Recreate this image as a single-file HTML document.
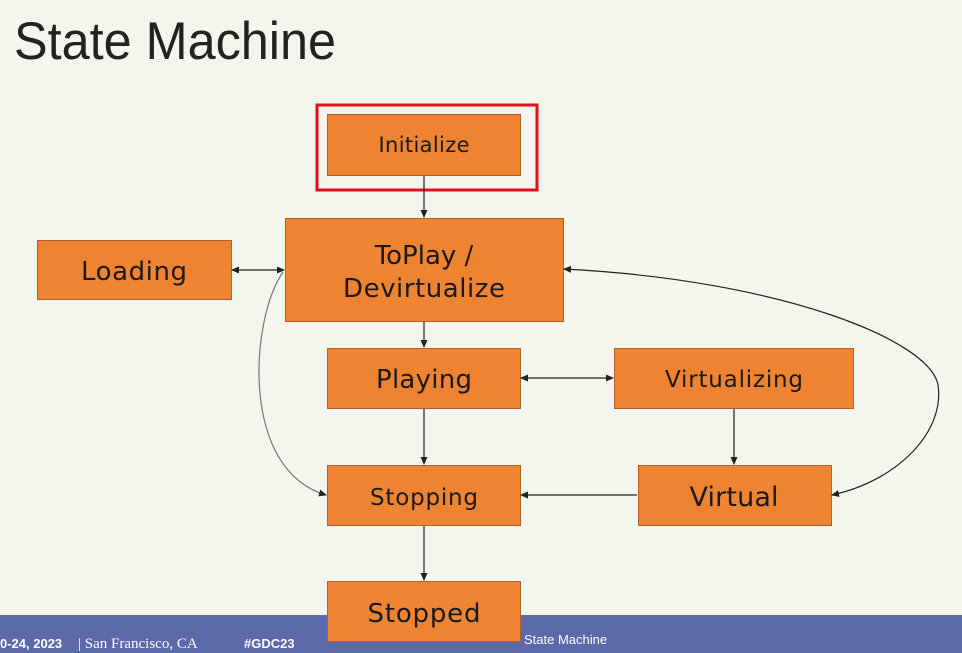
<!DOCTYPE html>
<html><head><meta charset="utf-8"><style>
html,body{margin:0;padding:0;}
body{width:962px;height:653px;background:#f4f5ec;overflow:hidden;}
</style></head><body>
<svg width="962" height="653" viewBox="0 0 962 653" xmlns="http://www.w3.org/2000/svg" style="display:block">
<defs>
<marker id="a" markerWidth="8" markerHeight="8" refX="7" refY="4" orient="auto-start-reverse" markerUnits="userSpaceOnUse">
<path d="M0,0.5 L8,4 L0,7.5 Z" fill="#222"/></marker>
</defs>
<rect width="962" height="653" fill="#f4f5ec"/>
<text x="14" y="59" font-family="Liberation Sans, sans-serif" font-size="53" fill="#222" textLength="322" lengthAdjust="spacingAndGlyphs">State Machine</text>
<rect x="0" y="615" width="962" height="38" fill="#5b69aa"/>
<text x="0" y="648" font-family="Liberation Sans, sans-serif" font-size="13" font-weight="bold" fill="#fff">0-24, 2023</text>
<text x="78" y="648" font-family="Liberation Serif, serif" font-size="15" fill="#fff">|  San Francisco, CA</text>
<text x="244" y="648" font-family="Liberation Sans, sans-serif" font-size="13" font-weight="bold" fill="#fff">#GDC23</text>
<text x="524" y="644" font-family="Liberation Sans, sans-serif" font-size="13" fill="#fff">State Machine</text>
<rect x="317" y="105" width="220" height="85" fill="none" stroke="#e0101c" stroke-width="3"/>
<g fill="#ee8332" stroke="#b0602a" stroke-width="1">
<rect x="327.5" y="114.5" width="193" height="61"/>
<rect x="285.5" y="218.5" width="278" height="103"/>
<rect x="37.5" y="240.5" width="194" height="59"/>
<rect x="327.5" y="348.5" width="193" height="60"/>
<rect x="614.5" y="348.5" width="239" height="60"/>
<rect x="327.5" y="465.5" width="193" height="60"/>
<rect x="638.5" y="465.5" width="193" height="60"/>
<rect x="327.5" y="581.5" width="193" height="60"/>
</g>
<g font-family="DejaVu Sans, sans-serif" fill="#1a1a1a" text-anchor="middle" lengthAdjust="spacingAndGlyphs">
<text x="424" y="152" font-size="21" textLength="91">Initialize</text>
<text x="424" y="264" font-size="26">ToPlay /</text>
<text x="424" y="297" font-size="26" textLength="162">Devirtualize</text>
<text x="134" y="280" font-size="26" textLength="106">Loading</text>
<text x="424" y="388" font-size="26" textLength="96">Playing</text>
<text x="734" y="387" font-size="23" textLength="138">Virtualizing</text>
<text x="424" y="505" font-size="23" textLength="108">Stopping</text>
<text x="734" y="506" font-size="27" textLength="89">Virtual</text>
<text x="424" y="622" font-size="26" textLength="113">Stopped</text>
</g>
<g stroke="#222" stroke-width="1.2" fill="none">
<line x1="424" y1="176" x2="424" y2="217" marker-end="url(#a)"/>
<line x1="424" y1="322" x2="424" y2="347" marker-end="url(#a)"/>
<line x1="424" y1="409" x2="424" y2="464" marker-end="url(#a)"/>
<line x1="424" y1="526" x2="424" y2="580" marker-end="url(#a)"/>
<line x1="734" y1="409" x2="734" y2="464" marker-end="url(#a)"/>
<line x1="637" y1="495" x2="521" y2="495" marker-end="url(#a)"/>
<line x1="232" y1="270" x2="284" y2="270" marker-start="url(#a)" marker-end="url(#a)"/>
<line x1="521" y1="378" x2="613" y2="378" marker-start="url(#a)" marker-end="url(#a)"/>
<path d="M283,272 C250,320 240,470 326,495" stroke="#777" marker-end="url(#a)"/>
<path d="M564,269 C780,280 930,340 938,385 C945,430 900,480 832,495" marker-start="url(#a)" marker-end="url(#a)"/>
</g>
</svg>
</body></html>
